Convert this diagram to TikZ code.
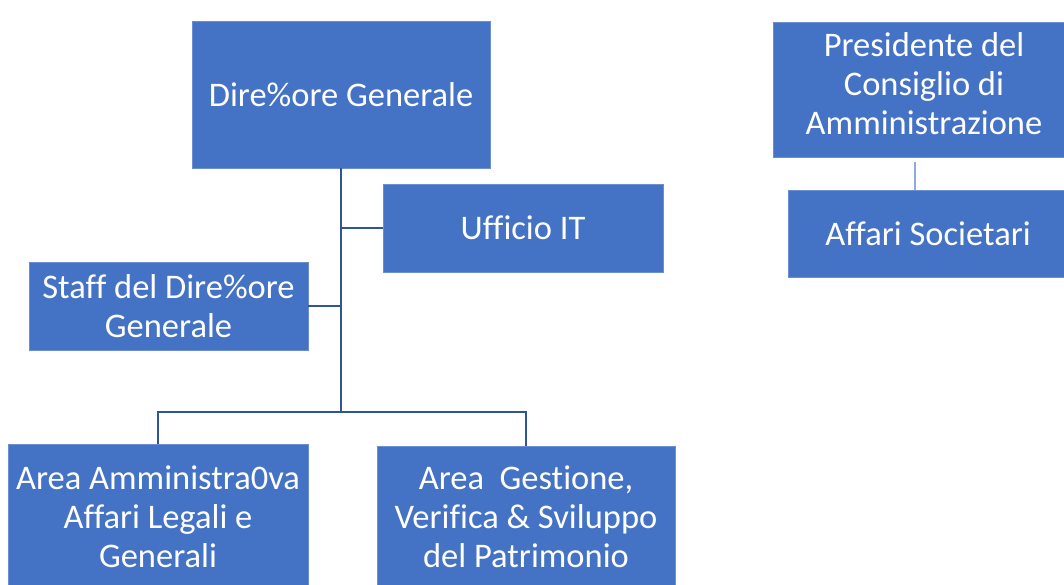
\documentclass[tikz,border=0pt]{standalone}
\usepackage{fontspec}
\setmainfont[Ligatures=NoCommon]{Carlito}
\begin{document}
\begin{tikzpicture}[x=1pt,y=1pt,yscale=-1,xscale=1,
  unit/.style={draw={rgb,255:red,108;green,142;blue,208},line width=0.8pt,fill={rgb,255:red,68;green,114;blue,196},text=white,align=center,inner sep=0pt,font=\fontsize{34.5}{39}\selectfont},
  link/.style={draw={rgb,255:red,47;green,85;blue,151},line width=1.5pt},
  softlink/.style={draw={rgb,255:red,143;green,170;blue,220},line width=1.5pt}]
\useasboundingbox (0,0) rectangle (1064,585);
\clip (0,0) rectangle (1064,585);

% Boxes
\node[unit,minimum width=298pt,minimum height=147pt] (dg) at (341,94.5) {Dire\%ore Generale};
\node[unit,minimum width=280pt,minimum height=88pt] (it) at (523,228) {Ufficio IT};
\node[unit,minimum width=279pt,minimum height=88pt] (staff) at (168.5,306) {Staff del Dire\%ore\\Generale};
\node[unit,minimum width=300pt,minimum height=146pt] (amm) at (158,517) {Area Amministra0va\\Affari Legali e\\Generali};
\node[unit,minimum width=298pt,minimum height=142pt] (gest) at (526,517) {Area\ \ Gestione,\\Verifica \& Sviluppo\\del Patrimonio};
\node[unit,minimum width=302pt,minimum height=135pt,text depth=12pt] (pres) at (924,89.5) {Presidente del\\Consiglio di\\Amministrazione};
\node[unit,minimum width=280pt,minimum height=87pt] (aff) at (928,233.5) {Affari Societari};

% Connectors
\coordinate (split) at (341,412);
\draw[link] (dg.south) -- (split);
\draw[link] (dg.south |- it.west) -- (it.west);
\draw[link] (dg.south |- staff.east) -- (staff.east);
\draw[link] (split) -| (amm.north);
\draw[link] (split) -| (gest.north);
\draw[softlink] ([xshift=-9pt,yshift=5pt]pres.south) -- ([xshift=-9pt]pres.south |- aff.north);

\end{tikzpicture}
\end{document}
